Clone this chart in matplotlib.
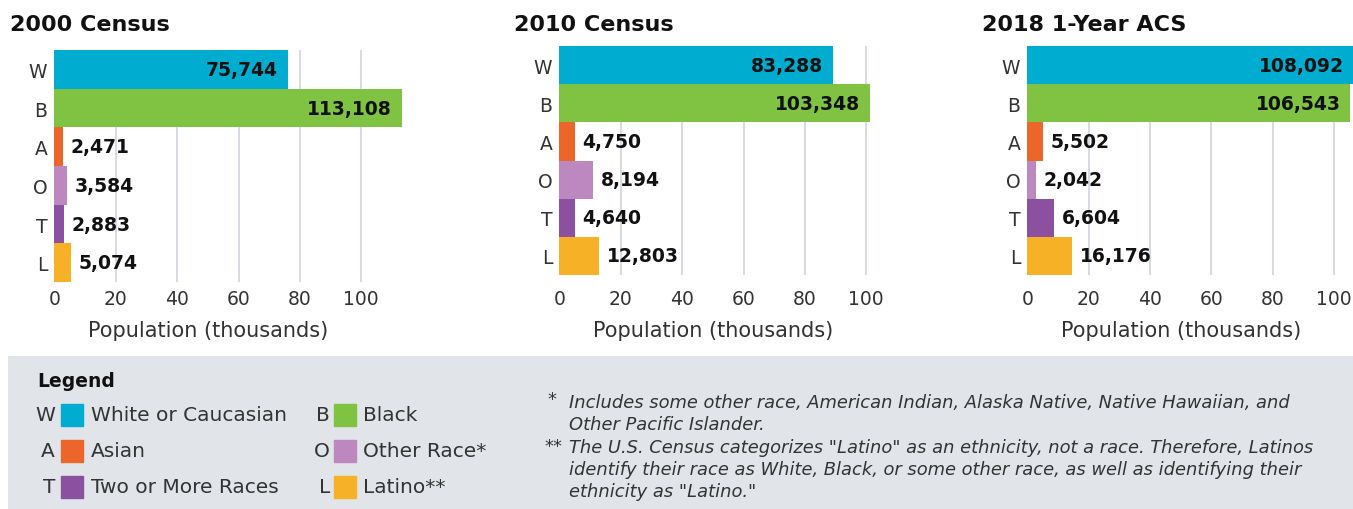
import matplotlib
matplotlib.use('Agg')
import matplotlib.pyplot as plt
from matplotlib.patches import Rectangle

# categories
codes = ['W', 'B', 'A', 'O', 'T', 'L']
colors = ['#00acd0', '#80c342', '#ec6629', '#bd88bf', '#8b50a0', '#f6b126']
titles = ['2000 Census', '2010 Census', '2018 1-Year ACS']

# printed values
labels_2000 = [75744, 113108, 2471, 3584, 2883, 5074]
labels_2010 = [83288, 103348, 4750, 8194, 4640, 12803]
labels_2018 = [108092, 106543, 5502, 2042, 6604, 16176]

# bar lengths as drawn (thousands)
bars_2000 = [76.1, 113.1, 2.8, 4.1, 3.2, 5.5]
bars_2010 = [89.0, 101.2, 5.1, 11.0, 5.1, 12.9]
bars_2018 = [108.1, 105.2, 5.1, 2.8, 8.7, 14.6]

xticks = [0, 20, 40, 60, 80, 100]

legend_left = [('W', 'White or Caucasian'), ('A', 'Asian'), ('T', 'Two or More Races')]
legend_right = [('B', 'Black'), ('O', 'Other Race*'), ('L', 'Latino**')]
foot1 = ['Includes some other race, American Indian, Alaska Native, Native Hawaiian, and',
         'Other Pacific Islander.']
foot2 = ['The U.S. Census categorizes "Latino" as an ethnicity, not a race. Therefore, Latinos',
         'identify their race as White, Black, or some other race, as well as identifying their',
         'ethnicity as "Latino."']

plt.rcParams['font.family'] = ['DejaVu Sans']
W, H = 1353, 510
fig = plt.figure(figsize=(W / 100, H / 100), dpi=100)

# panel layout in pixels
px_per_unit = 3.07
lefts = [54.3, 559.3, 1027.3]
tops = [51, 47, 47]
bottoms = [283, 276, 276]
xmaxs = [115, 115, 106.2]
title_x = [10, 514, 982]

all_bars = [bars_2000, bars_2010, bars_2018]
all_labels = [labels_2000, labels_2010, labels_2018]

for k in range(3):
    xmax = xmaxs[k]
    ax = fig.add_axes([lefts[k] / W, 1 - bottoms[k] / H,
                       xmax * px_per_unit / W, (bottoms[k] - tops[k]) / H])
    ax.barh(range(6), all_bars[k], height=1.0, color=colors, zorder=2)
    ax.set_ylim(5.5, -0.5)
    ax.set_xlim(0, xmax)
    ax.set_xticks(xticks)
    ax.set_yticks(range(6))
    ax.set_yticklabels(codes)
    ax.grid(axis='x', color='#d3d8df', lw=1.3, zorder=0)
    for s in ax.spines.values():
        s.set_visible(False)
    pad = (290 - bottoms[k]) * 0.72
    ax.tick_params(axis='x', length=0, pad=pad, labelsize=13.5, labelcolor='#333333')
    ax.tick_params(axis='y', length=0, pad=5, labelsize=13.5, labelcolor='#333333')
    for i in range(6):
        v = all_bars[k][i]
        txt = f'{all_labels[k][i]:,}'
        if i < 2:
            ax.annotate(txt, xy=(min(v, xmax), i), xytext=(-7, 0), textcoords='offset points',
                        ha='right', va='center', fontsize=13.5, fontweight='bold', color='#111111')
        else:
            ax.annotate(txt, xy=(v, i), xytext=(5.5, 0), textcoords='offset points',
                        ha='left', va='center', fontsize=13.5, fontweight='bold', color='#111111')
    ypos = (bottoms[k] - 331) / (bottoms[k] - tops[k])
    ax.text(50, ypos, 'Population (thousands)', transform=ax.get_xaxis_transform(),
            ha='center', va='center', fontsize=15, color='#333333')
    fig.text(title_x[k] / W, 1 - 25 / H, titles[k], fontsize=16, fontweight='bold',
             va='center', ha='left', color='#111111')

# legend box
lax = fig.add_axes([8 / W, 0, 1 - 8 / W, 153 / H])
lax.set_xlim(8, W)
lax.set_ylim(H, 357)
lax.set_facecolor('#e1e4e8')
lax.set_xticks([])
lax.set_yticks([])
for s in lax.spines.values():
    s.set_visible(False)

lax.text(37, 382, 'Legend', fontsize=13.5, fontweight='bold', va='center', ha='left', color='#111111')
rows_y = [416, 452, 488]
col_color = {c: col for c, col in zip(codes, colors)}
for j, (code, name) in enumerate(legend_left):
    y = rows_y[j]
    lax.text(55, y, code, fontsize=14.5, va='center', ha='right', color='#333333')
    lax.add_patch(Rectangle((61, y - 11), 22, 22, color=col_color[code]))
    lax.text(91, y, name, fontsize=14.5, va='center', ha='left', color='#333333')
for j, (code, name) in enumerate(legend_right):
    y = rows_y[j]
    lax.text(330, y, code, fontsize=14.5, va='center', ha='right', color='#333333')
    lax.add_patch(Rectangle((334, y - 11), 22, 22, color=col_color[code]))
    lax.text(363, y, name, fontsize=14.5, va='center', ha='left', color='#333333')

fs = 12.9
lax.text(547, 400, '*', fontsize=fs, va='center', ha='left', style='italic', color='#333333')
lax.text(544, 447, '**', fontsize=fs, va='center', ha='left', style='italic', color='#333333')
for j, line in enumerate(foot1):
    lax.text(569, 403 + 22 * j, line, fontsize=fs, va='center', ha='left',
             style='italic', color='#333333')
for j, line in enumerate(foot2):
    lax.text(569, 448 + 22 * j, line, fontsize=fs, va='center', ha='left',
             style='italic', color='#333333')

fig.savefig('out.png', dpi=100)
